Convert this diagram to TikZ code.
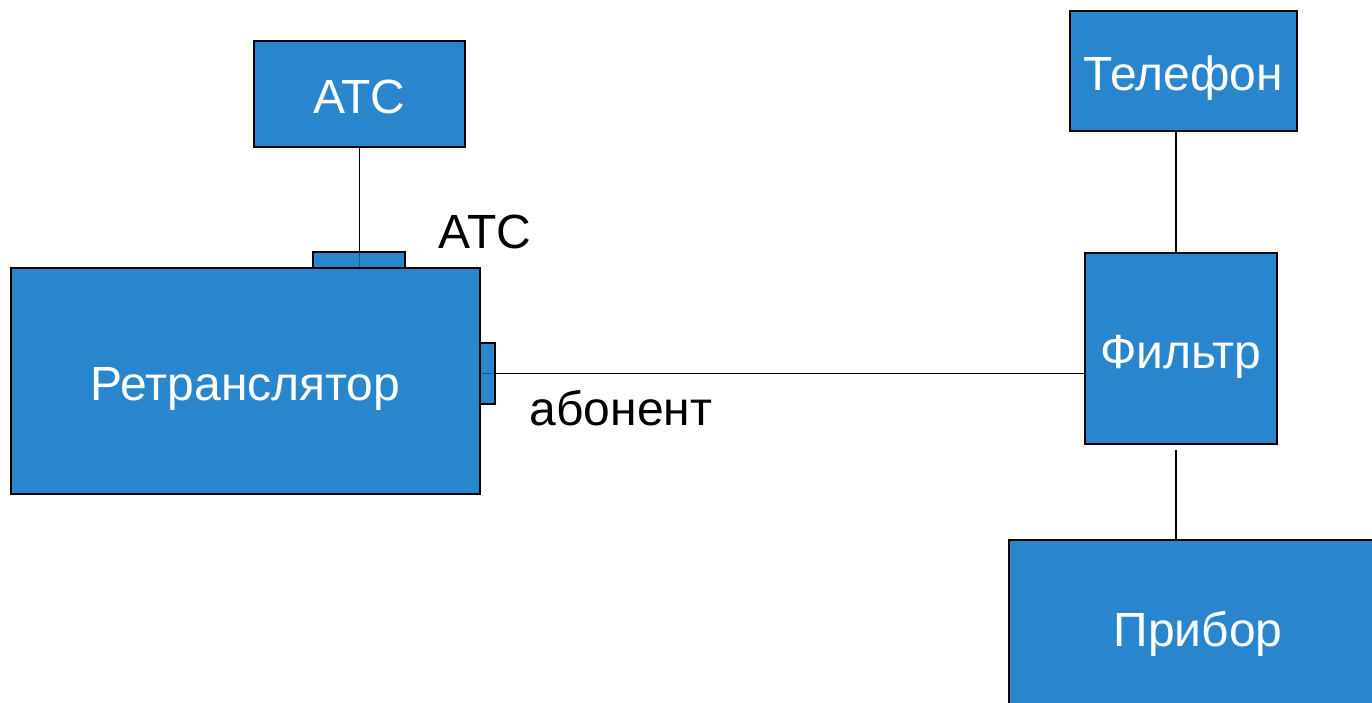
\documentclass[tikz,border=0pt]{standalone}
\usepackage{fontspec}
\setmainfont{Liberation Sans}
\definecolor{boxblue}{RGB}{41,134,204}
\definecolor{portblue}{RGB}{3,113,195}

\begin{document}
\begin{tikzpicture}[x=1pt,y=-1pt,line width=1.5pt,
    block/.style={draw=black,fill=boxblue,text=white,font=\fontsize{48}{56}\selectfont,inner sep=0pt,text height=39pt,text depth=0pt},
    port/.style={draw=black,fill=portblue,fill opacity=0.85,inner sep=0pt},
    tag/.style={font=\fontsize{48}{56}\selectfont,inner sep=0pt,text height=34pt,text depth=0pt}]
    \clip (0,0) rectangle (1372,703);
    \fill[white] (0,0) rectangle (1372,703);

    \node[block,minimum width=211pt,minimum height=106pt] (ats) at (359.5,94) {АТС};
    \node[block,minimum width=469pt,minimum height=226pt] (retr) at (245.5,381) {Ретранслятор};
    \node[block,minimum width=227pt,minimum height=120pt] (phone) at (1183.5,71) {Телефон};
    \node[block,minimum width=192pt,minimum height=191pt] (filter) at (1181,348.5) {Фильтр};
    \node[block,minimum width=378pt,minimum height=174pt] (dev) at (1198,627) {Прибор};

    \node[tag] (atstag) at (485,231) {АТС};
    \node[tag] (subtag) at (621,408) {абонент};

    \draw (ats.south) -- (ats.south |- retr.north);
    \draw (retr.east |- 0,373.5) -- (filter.west |- 0,373.5);
    \draw ([xshift=-7.5pt]phone.south) -- ([xshift=-7.5pt]phone.south |- filter.north);
    \draw ([xshift=-5pt,yshift=-5pt]filter.south) -- ([xshift=-5pt]filter.south |- dev.north);

    \node[port,minimum width=92pt,minimum height=16pt] (atsport) at (359,260) {};
    \node[port,minimum width=15pt,minimum height=61pt] (subport) at (487.5,373.5) {};
\end{tikzpicture}
\end{document}
